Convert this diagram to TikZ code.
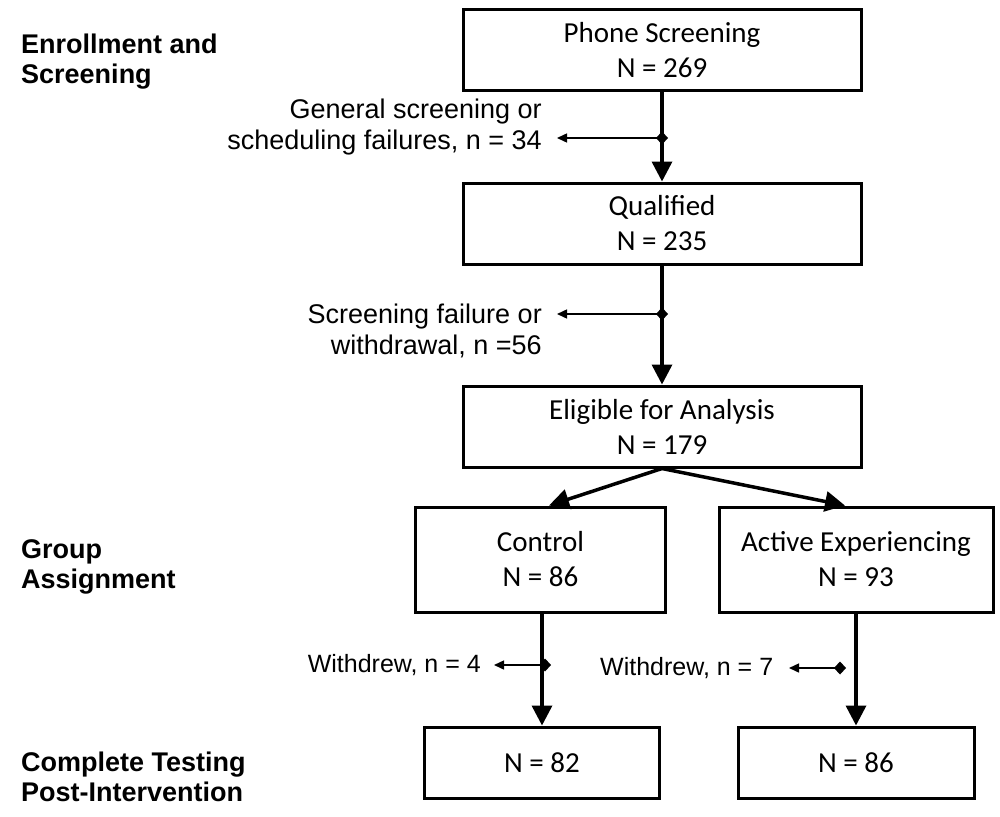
\documentclass[tikz,border=0pt]{standalone}
\usepackage{fontspec}
\setmainfont{Liberation Sans}
\newfontfamily\boxfont{Carlito}
\usetikzlibrary{arrows.meta}
\begin{document}
\begin{tikzpicture}[x=1pt,y=-1pt,
  box/.style={draw, line width=3pt, align=center, font=\boxfont\fontsize{29}{35}\selectfont, inner sep=0pt},
  head/.style={font=\bfseries\fontsize{27}{30}\selectfont, align=left, anchor=west, inner sep=0pt},
  note/.style={font=\fontsize{27}{31}\selectfont, align=right, anchor=east, inner sep=0pt},
  wnote/.style={font=\fontsize{25}{30}\selectfont, inner sep=0pt},
  main/.style={line width=3.5pt, -{Triangle[length=20pt,width=20pt]}},
  side/.style={line width=1.5pt, {Diamond[length=12pt,width=13pt]}-{Triangle[length=10pt,width=9pt]}}]
\useasboundingbox (0,0) rectangle (1000,816);

% boxes
\node[box, minimum width=398pt, minimum height=80pt] (phone) at (662,50) {Phone Screening\\N = 269};
\node[box, minimum width=398pt, minimum height=81pt] (qual) at (662,223.5) {Qualified\\N = 235};
\node[box, minimum width=398pt, minimum height=81pt] (elig) at (662,426.5) {Eligible for Analysis\\N = 179};
\node[box, minimum width=250pt, minimum height=105pt] (ctrl) at (540.5,559.5) {Control\\N = 86};
\node[box, minimum width=274pt, minimum height=105pt] (act) at (856,559.5) {Active Experiencing\\N = 93};
\node[box, minimum width=235pt, minimum height=71pt] (res1) at (542,762.5) {N = 82};
\node[box, minimum width=236pt, minimum height=71pt] (res2) at (856,762.5) {N = 86};

% stage headings
\node[head] (h1) at (21,62) {Enrollment and\\Screening};
\node[head] (h2) at (21,567) {Group\\Assignment};
\node[head] (h3) at (21,777) {Complete Testing\\Post-Intervention};

% exclusion labels
\node[note] (n1) at (542,127.5) {General screening or\\scheduling failures, n = 34};
\node[note] (n2) at (542,331) {Screening failure or\\withdrawal, n =56};
\node[wnote, anchor=east] (w1) at (481,665) {Withdrew, n = 4};
\node[wnote, anchor=west] (w2) at (600,668) {Withdrew, n = 7};

% helper coordinates
\coordinate (xm) at (662,0);
\coordinate (xc) at (542,0);
\coordinate (xa) at (856,0);
\coordinate (dl) at (549,0);
\coordinate (dr) at (845,0);
\coordinate (j1) at (668,138);
\coordinate (t1) at (557,138);
\coordinate (j2) at (668,314);
\coordinate (t2) at (557,314);
\coordinate (j3) at (551,665);
\coordinate (t3) at (494,665);
\coordinate (j4) at (846,668);
\coordinate (t4) at (789,668);

% main flow
\draw[main] (phone.south -| xm) -- (qual.north -| xm);
\draw[main] (qual.south -| xm) -- (elig.north -| xm);
\draw[main] (elig.south -| xm) -- (ctrl.north -| dl);
\draw[main] (elig.south -| xm) -- (act.north -| dr);
\draw[main] (ctrl.south -| xc) -- (res1.north -| xc);
\draw[main] (act.south -| xa) -- (res2.north -| xa);

% exclusions
\draw[side] (j1) -- (t1);
\draw[side] (j2) -- (t2);
\draw[side] (j3) -- (t3);
\draw[side] (j4) -- (t4);
\end{tikzpicture}
\end{document}
